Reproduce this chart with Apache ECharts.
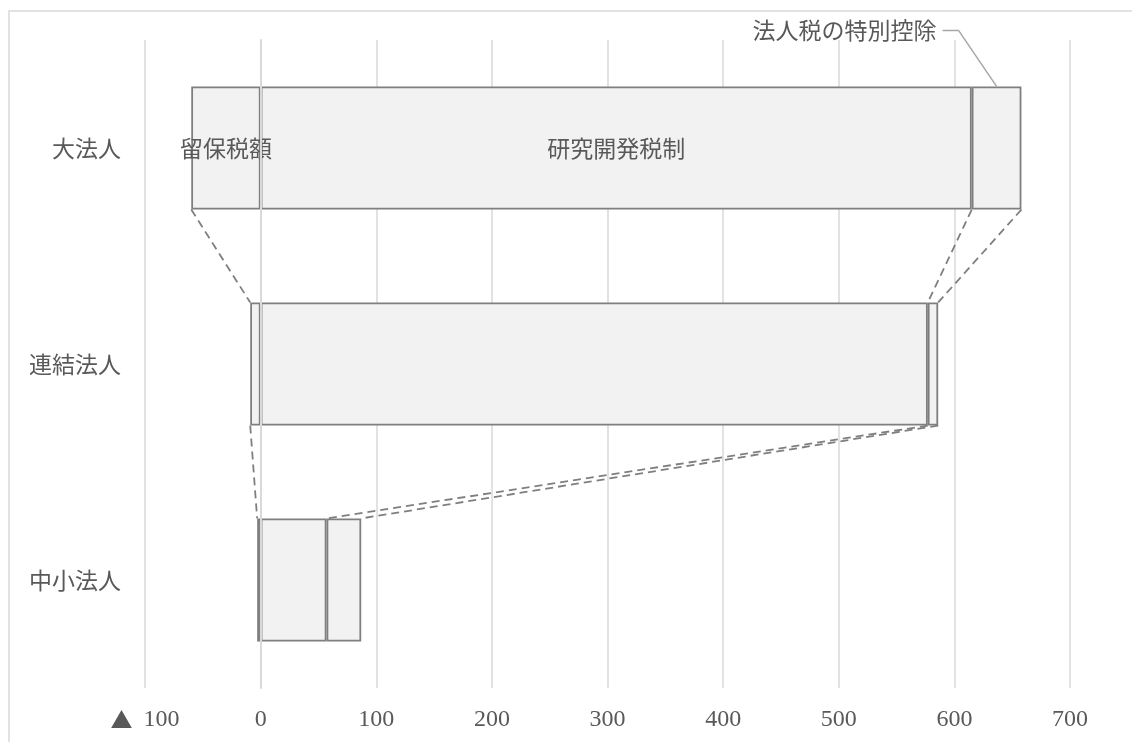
<!DOCTYPE html>
<html>
<head>
<meta charset="utf-8">
<script src="https://cdn.jsdelivr.net/npm/echarts@6/dist/echarts.min.js"></script>
<style>
  html, body { margin: 0; padding: 0; background: #fff; }
  #chart { width: 1132px; height: 742px; }
</style>
</head>
<body>
<div id="chart"></div>
<script>
// 法人区分ごとの税額控除の内訳
const categories = ['大法人', '連結法人', '中小法人'];
const seriesNames = ['留保税額', '研究開発税制', '法人税の特別控除'];
const retainedTax = [-60, -9, -3];        // 留保税額
const rdCredit = [615, 577, 57];          // 研究開発税制
const specialDeduction = [43, 9, 30];     // 法人税の特別控除
const xTicks = { min: -100, max: 700, step: 100 };

const serifFont = "'Liberation Serif', 'Noto Sans CJK JP', serif";
const jpFont = "'Noto Sans CJK JP', sans-serif";
const textColor = '#595959';
const edgeColor = '#7f7f7f';
const fillColor = '#f2f2f2';
const gridColor = '#d9d9d9';
const barShare = 0.57;

// series lines: connect each segment end of one bar to the next bar
const connectors = [];
for (let i = 0; i < categories.length - 1; i++) {
  const ends = (k) => [retainedTax[k], rdCredit[k], rdCredit[k] + specialDeduction[k]];
  const a = ends(i), b = ends(i + 1);
  for (let j = 0; j < a.length; j++) connectors.push([a[j], i, b[j], i + 1]);
}

// callout anchor: top middle of the 法人税の特別控除 segment of the first bar
const calloutData = [[rdCredit[0] + specialDeduction[0] / 2, 0]];

const chart = echarts.init(document.getElementById('chart'));

const barStyle = { color: fillColor, borderColor: edgeColor, borderWidth: 1.8 };
const barLabel = (text) => ({
  show: true, position: 'inside', formatter: text,
  color: textColor, fontFamily: jpFont, fontSize: 23
});

chart.setOption({
  animation: false,
  backgroundColor: '#fff',
  graphic: [{
    type: 'rect',
    shape: { x: 9, y: 11, width: 1300, height: 900 },
    style: { fill: null, stroke: gridColor, lineWidth: 1.5 },
    z: -10, silent: true
  }],
  grid: { left: 145, right: 62, top: 40, bottom: 54, containLabel: false },
  xAxis: {
    type: 'value',
    min: xTicks.min, max: xTicks.max, interval: xTicks.step,
    axisLine: { show: false },
    axisTick: { show: false },
    splitLine: { lineStyle: { color: gridColor, width: 1.5 } },
    axisLabel: {
      margin: 20,
      color: textColor, fontFamily: serifFont, fontSize: 24,
      // negative values are written with a leading ▲
      formatter: (v) => v < 0 ? '{tri|▲} ' + Math.abs(v) : String(v),
      rich: {
        tri: { fontFamily: jpFont, fontSize: 22, color: textColor, padding: [0, 5, 0, 0] }
      }
    }
  },
  yAxis: {
    type: 'category',
    data: categories,
    inverse: true,
    z: 10,
    axisLine: { show: true, onZero: true, lineStyle: { color: gridColor, width: 2 } },
    axisTick: { show: false },
    axisLabel: { margin: 24, color: textColor, fontFamily: jpFont, fontSize: 23 }
  },
  series: [
    {
      name: seriesNames[0], type: 'bar', stack: 'total',
      barCategoryGap: ((1 - barShare) * 100) + '%',
      itemStyle: barStyle,
      data: retainedTax.map((v, i) => i === 0 ? { value: v, label: barLabel(seriesNames[0]) } : v)
    },
    {
      name: seriesNames[1], type: 'bar', stack: 'total',
      itemStyle: barStyle,
      data: rdCredit.map((v, i) => i === 0 ? { value: v, label: barLabel(seriesNames[1]) } : v)
    },
    {
      name: seriesNames[2], type: 'bar', stack: 'total',
      itemStyle: barStyle,
      data: specialDeduction
    },
    {
      type: 'custom',
      name: 'series-lines',
      encode: { x: [0, 2], y: [1, 3] },
      data: connectors,
      z: 3,
      silent: true,
      renderItem: (params, api) => {
        const p1 = api.coord([api.value(0), api.value(1)]);
        const p2 = api.coord([api.value(2), api.value(3)]);
        const half = api.size([0, 1])[1] * barShare / 2;
        return {
          type: 'line',
          shape: { x1: p1[0], y1: p1[1] + half, x2: p2[0], y2: p2[1] - half },
          style: { stroke: edgeColor, lineWidth: 1.8, lineDash: [8, 5] }
        };
      }
    },
    {
      type: 'custom',
      name: 'callout',
      encode: { x: 0, y: 1 },
      data: calloutData,
      z: 4,
      silent: true,
      renderItem: (params, api) => {
        const p = api.coord([api.value(0), api.value(1)]);
        const half = api.size([0, 1])[1] * barShare / 2;
        const ax = p[0], ay = p[1] - half;
        return {
          type: 'group',
          children: [
            {
              type: 'polyline',
              shape: { points: [[ax, ay], [ax - 38, ay - 56], [ax - 54, ay - 56]] },
              style: { stroke: '#a6a6a6', lineWidth: 1.5, fill: null }
            },
            {
              type: 'text',
              style: {
                x: ax - 60, y: ay - 56,
                text: seriesNames[2],
                align: 'right', verticalAlign: 'middle',
                fill: textColor, font: '23px ' + jpFont
              }
            }
          ]
        };
      }
    }
  ]
});
</script>
</body>
</html>
